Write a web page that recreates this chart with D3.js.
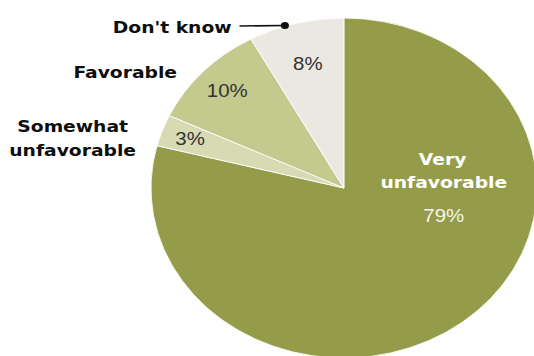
<!DOCTYPE html>
<html>
<head>
<meta charset="utf-8">
<script src="https://cdn.jsdelivr.net/npm/d3@7"></script>
<style>
  body { margin: 0; background: #fff; }
  svg { display: block; }
  .name { font-family: "DejaVu Sans", sans-serif; font-weight: bold; font-size: 16.5px; fill: #0d0d0d; }
  .pct { font-family: "Liberation Sans", sans-serif; font-size: 18px; fill: #333; }
</style>
</head>
<body>
<div id="chart"></div>
<script>
// Slices clockwise from 12 o'clock
const categories = ["Very unfavorable", "Somewhat unfavorable", "Favorable", "Don't know"];
const values = [79, 3, 10, 8];
const colors = ["#949c49", "#d7dab2", "#c4c98e", "#ebe8e1"];

const width = 534, height = 356;
const stretch = 1.135; // reference is squeezed horizontally
const cx = 303, cy = 188, radius = 170;

const svg = d3.select("#chart").append("svg")
	.attr("width", width)
	.attr("height", height);

const g = svg.append("g")
	.attr("transform", "scale(" + stretch + ",1)");

const pie = d3.pie().sort(null).value(d => d);
const arcs = pie(values);
const arc = d3.arc().innerRadius(0).outerRadius(radius);

const pieGroup = g.append("g")
	.attr("transform", "translate(" + cx + "," + cy + ")");

pieGroup.selectAll("path")
	.data(arcs)
	.enter()
	.append("path")
	.attr("d", arc)
	.attr("fill", (d, i) => colors[i])
	.attr("stroke", "#fff")
	.attr("stroke-width", 0.8);

// percent labels inside slices (label radius per slice)
const labelRadius = [0, 144, 141, 128];
arcs.forEach((d, i) => {
	if (i === 0) return;
	const c = d3.arc().innerRadius(labelRadius[i]).outerRadius(labelRadius[i]).centroid(d);
	pieGroup.append("text")
		.classed("pct", true)
		.attr("x", c[0])
		.attr("y", c[1] + 6)
		.attr("text-anchor", "middle")
		.text(values[i] + "%");
});

// big slice label
const big = g.append("g").attr("text-anchor", "middle");
big.append("text").classed("name", true).attr("x", 390).attr("y", 165).style("fill", "#fff").text("Very");
big.append("text").classed("name", true).attr("x", 391).attr("y", 188).style("fill", "#fff").text("unfavorable");
big.append("text").classed("pct", true).attr("x", 391).attr("y", 222).style("fill", "#f4f4ec").text(values[0] + "%");

// outside labels
g.append("text").classed("name", true)
	.attr("x", 64).attr("y", 132).attr("text-anchor", "middle").text("Somewhat");
g.append("text").classed("name", true)
	.attr("x", 64).attr("y", 156).attr("text-anchor", "middle").text("unfavorable");
g.append("text").classed("name", true)
	.attr("x", 156).attr("y", 78).attr("text-anchor", "end").text(categories[2]);
g.append("text").classed("name", true)
	.attr("x", 204).attr("y", 33).attr("text-anchor", "end").text(categories[3]);

// leader for Don't know
g.append("line")
	.attr("x1", 211).attr("y1", 26)
	.attr("x2", 251).attr("y2", 25.5)
	.attr("stroke", "#111")
	.attr("stroke-width", 1.6);
g.append("circle")
	.attr("cx", 251).attr("cy", 25.5)
	.attr("r", 3.6)
	.attr("fill", "#111");
</script>
</body>
</html>
